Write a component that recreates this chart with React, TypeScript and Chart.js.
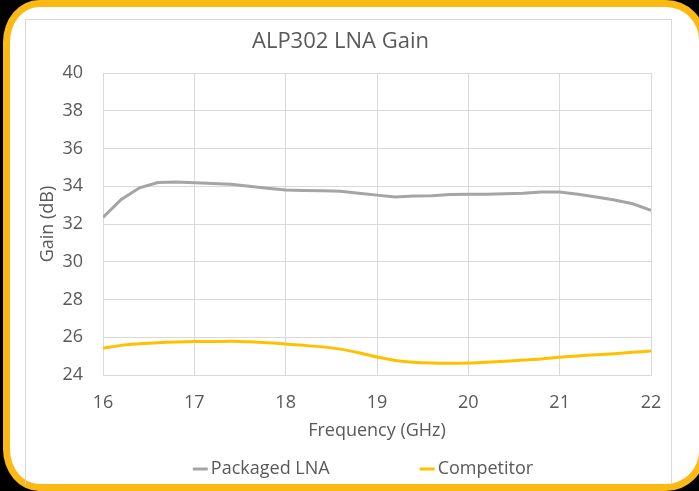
import React, { useEffect, useRef } from "react";
import { Chart, registerables } from "chart.js";

Chart.register(...registerables);

const frequencies = [
  16.0, 16.2, 16.4, 16.6, 16.8, 17.0, 17.2, 17.4, 17.6, 17.8, 18.0, 18.2, 18.4, 18.6, 18.8,
  19.0, 19.2, 19.4, 19.6, 19.8, 20.0, 20.2, 20.4, 20.6, 20.8, 21.0, 21.2, 21.4, 21.6, 21.8, 22.0,
];
const packagedLna = [
  32.35, 33.3, 33.92, 34.2, 34.22, 34.18, 34.15, 34.1, 34.0, 33.9, 33.8, 33.78, 33.76, 33.73, 33.63,
  33.53, 33.43, 33.48, 33.5, 33.56, 33.57, 33.58, 33.6, 33.63, 33.7, 33.7, 33.58, 33.43, 33.27, 33.07, 32.72,
];
const competitor = [
  25.42, 25.57, 25.65, 25.71, 25.75, 25.77, 25.77, 25.79, 25.76, 25.71, 25.64, 25.57, 25.49, 25.37, 25.18,
  24.95, 24.77, 24.67, 24.63, 24.62, 24.63, 24.67, 24.73, 24.79, 24.85, 24.94, 25.01, 25.07, 25.13, 25.2, 25.27,
];
const seriesNames = ["Packaged LNA", "Competitor"];
const seriesColors = ["#A5A5A5", "#FFC000"];
const chartTitle = "ALP302 LNA Gain";
const xTitle = "Frequency (GHz)";
const yTitle = "Gain (dB)";

const FONT = "'Open Sans', sans-serif";
const TEXT = "#595959";
const GRID = "#D9D9D9";

const bottomLegend = {
  id: "bottomLegend",
  afterDraw(chart: any) {
    const ctx = chart.ctx;
    ctx.save();
    ctx.font = `18px ${FONT}`;
    ctx.textBaseline = "middle";
    ctx.textAlign = "left";
    const lineLen = 15;
    const textGap = 3;
    const itemGap = 90;
    const items = chart.data.datasets.map((d: any) => ({
      label: d.label,
      color: d.borderColor,
      w: lineLen + textGap + ctx.measureText(d.label).width,
    }));
    const total = items.reduce((s: number, it: any) => s + it.w, 0) + itemGap * (items.length - 1);
    let x = 363 - total / 2;
    const y = 469;
    items.forEach((it: any) => {
      ctx.strokeStyle = it.color;
      ctx.lineWidth = 3;
      ctx.beginPath();
      ctx.moveTo(x, y);
      ctx.lineTo(x + lineLen, y);
      ctx.stroke();
      ctx.fillStyle = TEXT;
      ctx.fillText(it.label, x + lineLen + textGap, y);
      x += it.w + itemGap;
    });
    ctx.restore();
  },
};

export default function App() {
  const ref = useRef<HTMLCanvasElement>(null);
  useEffect(() => {
    document.body.style.margin = "0";
    document.body.style.background = "#000";
    const chart = new Chart(ref.current!, {
      type: "line",
      data: {
        datasets: [
          {
            label: seriesNames[0],
            data: frequencies.map((f, i) => ({ x: f, y: packagedLna[i] })),
            borderColor: seriesColors[0],
            backgroundColor: seriesColors[0],
            borderWidth: 3,
            pointRadius: 0,
            tension: 0,
          },
          {
            label: seriesNames[1],
            data: frequencies.map((f, i) => ({ x: f, y: competitor[i] })),
            borderColor: seriesColors[1],
            backgroundColor: seriesColors[1],
            borderWidth: 3,
            pointRadius: 0,
            tension: 0.3,
          },
        ],
      },
      options: {
        responsive: false,
        animation: false,
        layout: { padding: { left: 30, right: 48, top: 28.6, bottom: 48 } },
        plugins: {
          legend: { display: false },
          tooltip: { enabled: false },
          title: {
            display: true,
            text: chartTitle,
            color: TEXT,
            font: { family: FONT, size: 22, weight: "normal" },
            padding: { top: 0, bottom: 18 },
          },
        },
        scales: {
          x: {
            type: "linear",
            min: 16,
            max: 22,
            ticks: { stepSize: 1, color: TEXT, font: { family: FONT, size: 18 }, padding: 17 },
            grid: { color: GRID, drawTicks: false },
            border: { color: GRID },
            title: {
              display: true,
              text: xTitle,
              color: TEXT,
              font: { family: FONT, size: 18 },
              padding: { top: 0, bottom: 1 },
            },
            afterFit: (s: any) => {
              s.height = 68;
            },
          },
          y: {
            min: 24,
            max: 40,
            ticks: { stepSize: 2, color: TEXT, font: { family: FONT, size: 18 }, padding: 20 },
            grid: { color: GRID, drawTicks: false },
            border: { color: GRID },
            title: {
              display: true,
              text: yTitle,
              color: TEXT,
              font: { family: FONT, size: 18 },
              padding: { top: 7, bottom: 0 },
            },
            afterFit: (s: any) => {
              s.width = 73;
            },
          },
        },
      },
      plugins: [bottomLegend],
    });
    return () => chart.destroy();
  }, []);

  return (
    <div style={{ position: "relative", width: 699, height: 491, overflow: "hidden", background: "#000" }}>
      <div
        style={{
          position: "absolute",
          left: 3,
          top: 0,
          width: 703,
          height: 491,
          boxSizing: "border-box",
          border: "7px solid #FDB913",
          borderRadius: "36px 40px 40px 36px / 42px 40px 40px 42px",
          background: "#fff",
        }}
      />
      <div
        style={{
          position: "absolute",
          left: 25,
          top: 19,
          width: 647,
          height: 465,
          boxSizing: "border-box",
          border: `1px solid ${GRID}`,
          borderBottom: "none",
        }}
      />
      <canvas ref={ref} width={699} height={491} style={{ position: "absolute", left: 0, top: 0 }} />
    </div>
  );
}
